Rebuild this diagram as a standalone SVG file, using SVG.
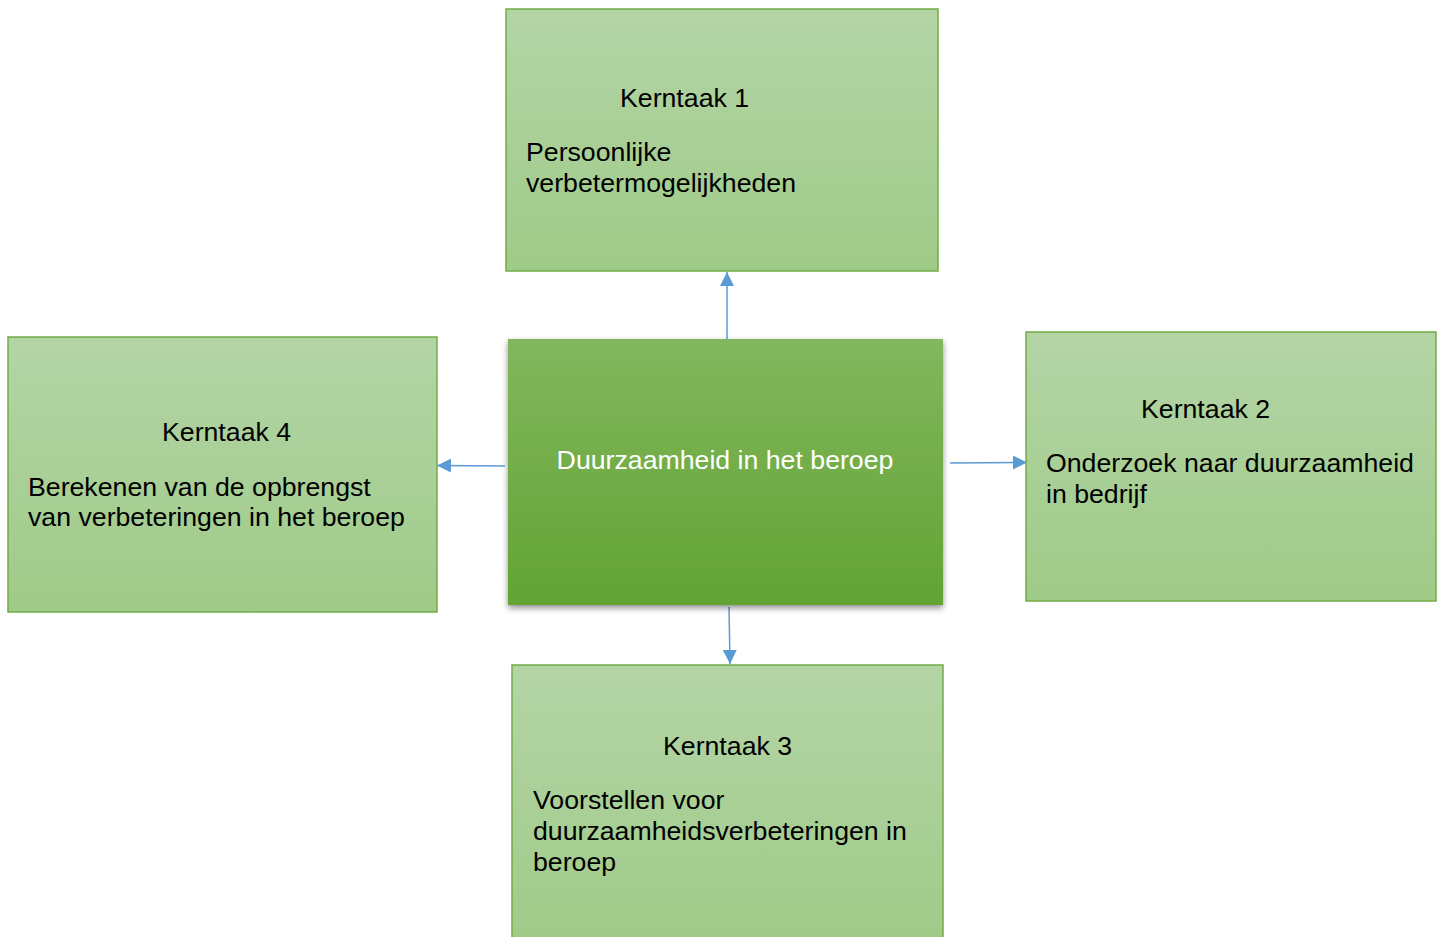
<svg xmlns="http://www.w3.org/2000/svg" width="1442" height="937" viewBox="0 0 1442 937">
<defs>
<linearGradient id="lg" x1="0" y1="0" x2="0" y2="1"><stop offset="0" stop-color="#b4d4a6"/><stop offset="1" stop-color="#9fcb88"/></linearGradient>
<linearGradient id="dg" x1="0" y1="0" x2="0" y2="1"><stop offset="0" stop-color="#82b75e"/><stop offset="1" stop-color="#62a433"/></linearGradient>
<filter id="sh" x="-5%" y="-5%" width="110%" height="115%"><feGaussianBlur in="SourceAlpha" stdDeviation="3"/><feOffset dx="0" dy="3"/><feComponentTransfer><feFuncA type="linear" slope="0.45"/></feComponentTransfer><feMerge><feMergeNode/><feMergeNode in="SourceGraphic"/></feMerge></filter>
<marker id="ah" viewBox="0 0 10 10" refX="10" refY="5" markerWidth="14" markerHeight="14" markerUnits="userSpaceOnUse" orient="auto"><path d="M0,0 L10,5 L0,10 z" fill="#5b9bd5"/></marker>
<style>
.box{fill:url(#lg);stroke:#70ad47;stroke-width:1.5}
.t{font-family:"Liberation Sans",Arial,sans-serif;font-size:26.7px;fill:#000}
.c{stroke:#5b9bd5;stroke-width:1.5;fill:none}
</style>
</defs>
<g id="connectors">
<line class="c" x1="727" y1="339" x2="727" y2="272" marker-end="url(#ah)"/>
<line class="c" x1="505" y1="466" x2="437" y2="465.5" marker-end="url(#ah)"/>
<line class="c" x1="950" y1="463" x2="1027" y2="462.5" marker-end="url(#ah)"/>
<line class="c" x1="729" y1="607" x2="730" y2="664" marker-end="url(#ah)"/>
</g>
<g id="k1">
<rect class="box" x="506" y="9" width="432" height="262"/>
<text class="t" x="620" y="107">Kerntaak 1</text>
<text class="t" x="526" y="161">Persoonlijke</text>
<text class="t" x="526" y="192">verbetermogelijkheden</text>
</g>
<g id="k4">
<rect class="box" x="8" y="337" width="429" height="275"/>
<text class="t" x="162" y="441">Kerntaak 4</text>
<text class="t" x="28" y="496">Berekenen van de opbrengst</text>
<text class="t" x="28" y="526">van verbeteringen in het beroep</text>
</g>
<g id="k2">
<rect class="box" x="1026" y="332" width="410" height="269"/>
<text class="t" x="1141" y="418">Kerntaak 2</text>
<text class="t" x="1046" y="472">Onderzoek naar duurzaamheid</text>
<text class="t" x="1046" y="503">in bedrijf</text>
</g>
<g id="k3">
<rect class="box" x="512" y="665" width="431" height="280"/>
<text class="t" x="663" y="755">Kerntaak 3</text>
<text class="t" x="533" y="809">Voorstellen voor</text>
<text class="t" x="533" y="840">duurzaamheidsverbeteringen in</text>
<text class="t" x="533" y="871">beroep</text>
</g>
<g id="center">
<rect x="508" y="339" width="435" height="266" fill="url(#dg)" filter="url(#sh)"/>
<text x="725" y="469" text-anchor="middle" font-family="'Liberation Sans',Arial,sans-serif" font-size="26.7" fill="#fff">Duurzaamheid in het beroep</text>
</g>
</svg>
